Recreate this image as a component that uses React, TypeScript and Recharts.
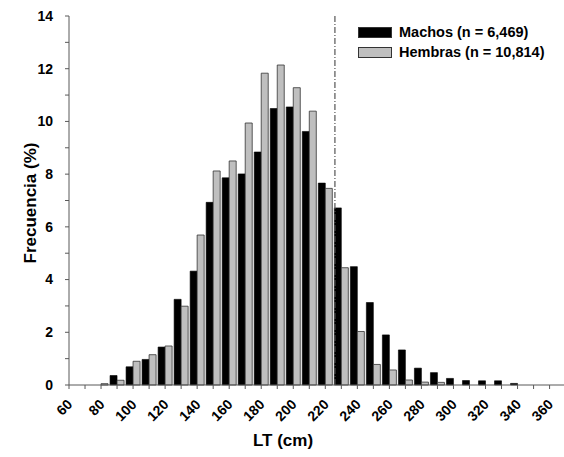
import { BarChart, Bar, XAxis, YAxis, ReferenceLine, Label } from 'recharts';

const lengths = [80, 90, 100, 110, 120, 130, 140, 150, 160, 170, 180, 190, 200, 210, 220, 230, 240, 250, 260, 270, 280, 290, 300, 310, 320, 330, 340];
const machos = [0, 0.36, 0.69, 0.97, 1.44, 3.25, 4.32, 6.93, 7.86, 8.01, 8.84, 10.49, 10.55, 9.62, 7.66, 6.72, 4.49, 3.13, 1.9, 1.33, 0.64, 0.47, 0.25, 0.17, 0.16, 0.16, 0.06];
const hembras = [0.05, 0.18, 0.9, 1.15, 1.48, 2.99, 5.69, 8.12, 8.5, 9.94, 11.83, 12.14, 11.28, 10.39, 7.46, 4.45, 2.03, 0.78, 0.57, 0.19, 0.11, 0.1, 0, 0, 0, 0, 0];

const xTicks = [60, 70, 80, 90, 100, 110, 120, 130, 140, 150, 160, 170, 180, 190, 200, 210, 220, 230, 240, 250, 260, 270, 280, 290, 300, 310, 320, 330, 340, 350, 360];
const yTicks = [0, 1, 2, 3, 4, 5, 6, 7, 8, 9, 10, 11, 12, 13, 14];
const seriesNames = ['Machos (n = 6,469)', 'Hembras (n = 10,814)'];
const cutoff = 226;

const data = lengths.map((lt, i) => ({ lt, machos: machos[i], hembras: hembras[i] }));

const FONT = '"Liberation Sans", Arial, sans-serif';
const AXIS = '#595959';

const XTick = ({ x, y, payload }: any) => {
  if (payload.value % 20 !== 0) return null;
  const ax = x - 3;
  const ay = y + 6;
  return (
    <text
      x={ax}
      y={ay}
      transform={`rotate(-45, ${ax}, ${ay})`}
      textAnchor="end"
      dominantBaseline="hanging"
      fontFamily={FONT}
      fontWeight="bold"
      fontSize={14}
      fill="#000"
    >
      {payload.value}
    </text>
  );
};

const YTick = ({ x, y, payload }: any) => {
  if (payload.value % 2 !== 0) return null;
  return (
    <text x={x} y={y} dy="0.35em" textAnchor="end" fontFamily={FONT} fontWeight="bold" fontSize={14} fill="#000">
      {payload.value}
    </text>
  );
};

export default function App() {
  return (
    <div style={{ position: 'absolute', left: 0, top: 0, width: 564, height: 457, background: '#fff' }}>
      <BarChart width={564} height={457} data={data} margin={{ top: 16, right: 0, left: 0, bottom: 0 }} barGap={0}>
        <XAxis
          dataKey="lt"
          type="number"
          domain={[60, 369]}
          ticks={xTicks}
          interval={0}
          height={72}
          stroke={AXIS}
          tickSize={4}
          tickMargin={3}
          tick={<XTick />}
        >
          <Label
            content={() => (
              <text x={283} y={446} textAnchor="middle" fontFamily={FONT} fontWeight="bold" fontSize={17} fill="#000">
                LT (cm)
              </text>
            )}
          />
        </XAxis>
        <YAxis
          domain={[0, 14]}
          ticks={yTicks}
          interval={0}
          width={69}
          stroke={AXIS}
          tickSize={4}
          tickMargin={12}
          tick={<YTick />}
        >
          <Label
            content={() => (
              <text
                x={30}
                y={203}
                transform="rotate(-90, 30, 203)"
                textAnchor="middle"
                dominantBaseline="central"
                fontFamily={FONT}
                fontWeight="bold"
                fontSize={17}
                fill="#000"
              >
                Frecuencia (%)
              </text>
            )}
          />
        </YAxis>
        <ReferenceLine x={cutoff} stroke="#555" strokeWidth={1.2} strokeDasharray="6 2 1 2" />
        <Bar dataKey="machos" fill="#000" stroke="#000" strokeWidth={0.6} barSize={7} isAnimationActive={false} />
        <Bar dataKey="hembras" fill="#bfbfbf" stroke="#333" strokeWidth={0.8} barSize={7} isAnimationActive={false} />
      </BarChart>
      <div style={{ position: 'absolute', left: 358, top: 22, fontFamily: FONT, fontWeight: 'bold', fontSize: 14.5, lineHeight: '20px' }}>
        {seriesNames.map((name, i) => (
          <div key={name} style={{ display: 'flex', alignItems: 'center', whiteSpace: 'nowrap' }}>
            <span
              style={{
                display: 'inline-block',
                width: 32,
                height: 9,
                background: i === 0 ? '#000' : '#bfbfbf',
                border: '1px solid #333',
                marginRight: 7,
              }}
            />
            {name}
          </div>
        ))}
      </div>
    </div>
  );
}
